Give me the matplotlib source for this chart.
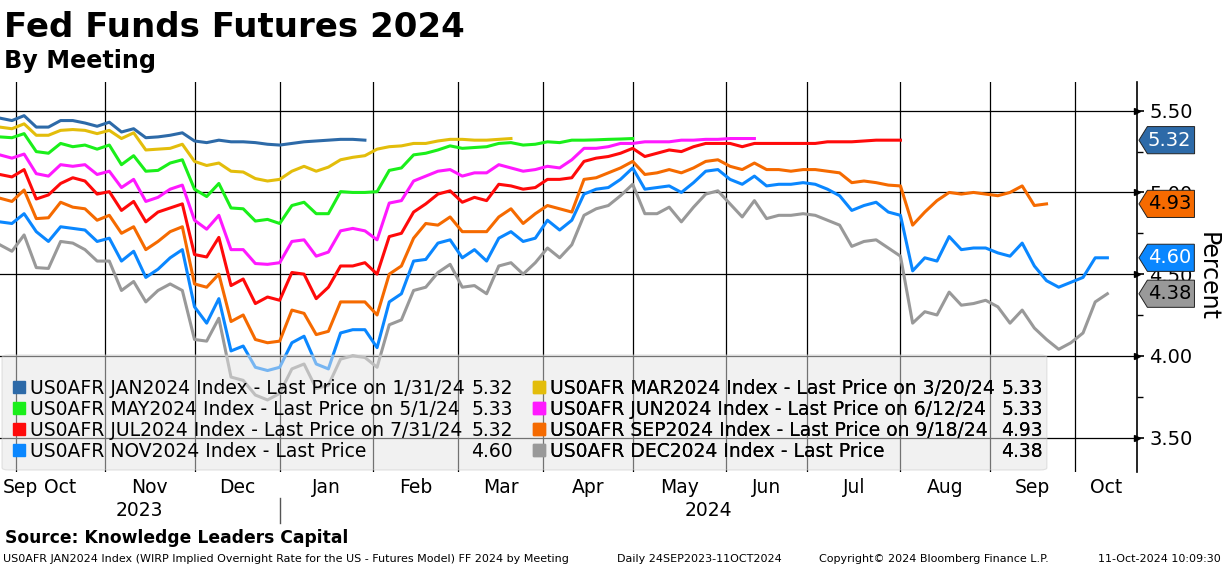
import numpy as np
import matplotlib
matplotlib.use('Agg')
import matplotlib.pyplot as plt
from matplotlib.lines import Line2D
from matplotlib.patches import FancyBboxPatch
from matplotlib.path import Path
from matplotlib.ticker import FormatStrFormatter

# implied overnight rate per FOMC meeting, every 3 business days
start = '2023-09-25'
step = 3

jan = [5.455, 5.44, 5.47, 5.40, 5.40, 5.44, 5.44, 5.425, 5.405, 5.43,
       5.37, 5.39, 5.335, 5.34, 5.35, 5.365, 5.315, 5.305, 5.32, 5.31,
       5.31, 5.305, 5.295, 5.29, 5.30, 5.31, 5.315, 5.32, 5.325, 5.325, 5.32]

mar = [5.40, 5.39, 5.42, 5.35, 5.35, 5.38, 5.385, 5.38, 5.36, 5.38,
       5.33, 5.365, 5.26, 5.265, 5.27, 5.295, 5.19, 5.165, 5.18, 5.13,
       5.125, 5.085, 5.07, 5.08, 5.13, 5.16, 5.13, 5.155, 5.20, 5.215,
       5.225, 5.265, 5.28, 5.285, 5.30, 5.30, 5.315, 5.325, 5.325, 5.32,
       5.32, 5.325, 5.33]

may = [5.34, 5.335, 5.36, 5.25, 5.24, 5.30, 5.28, 5.29, 5.265, 5.29,
       5.17, 5.225, 5.13, 5.135, 5.18, 5.20, 5.02, 4.975, 5.055, 4.905,
       4.90, 4.825, 4.835, 4.81, 4.92, 4.94, 4.87, 4.87, 5.005, 5.00,
       5.00, 5.005, 5.135, 5.15, 5.23, 5.24, 5.26, 5.285, 5.27, 5.275,
       5.28, 5.30, 5.305, 5.29, 5.295, 5.31, 5.305, 5.32, 5.32, 5.322,
       5.325, 5.327, 5.33]

jun = [5.23, 5.21, 5.235, 5.115, 5.10, 5.17, 5.16, 5.17, 5.11, 5.13,
       5.03, 5.08, 4.945, 4.97, 5.02, 5.045, 4.83, 4.775, 4.86, 4.65,
       4.65, 4.565, 4.56, 4.57, 4.70, 4.71, 4.61, 4.635, 4.765, 4.78,
       4.765, 4.71, 4.935, 4.95, 5.07, 5.10, 5.13, 5.14, 5.10, 5.12,
       5.12, 5.17, 5.15, 5.13, 5.14, 5.16, 5.15, 5.20, 5.27, 5.27,
       5.28, 5.30, 5.30, 5.31, 5.31, 5.31, 5.32, 5.32, 5.325, 5.325,
       5.33, 5.33, 5.33]

jul = [5.11, 5.095, 5.14, 4.96, 4.985, 5.055, 5.09, 5.07, 4.99, 5.005,
       4.89, 4.945, 4.82, 4.88, 4.905, 4.93, 4.62, 4.605, 4.725, 4.43,
       4.47, 4.32, 4.36, 4.34, 4.51, 4.50, 4.35, 4.42, 4.55, 4.55,
       4.57, 4.50, 4.73, 4.75, 4.88, 4.93, 4.99, 5.01, 4.94, 4.97,
       4.95, 5.05, 5.04, 5.02, 5.03, 5.08, 5.08, 5.09, 5.19, 5.21,
       5.22, 5.24, 5.27, 5.22, 5.24, 5.26, 5.25, 5.28, 5.30, 5.30,
       5.30, 5.28, 5.30, 5.30, 5.30, 5.30, 5.30, 5.30, 5.31, 5.31,
       5.31, 5.315, 5.32, 5.32, 5.32]

sep = [4.965, 4.945, 5.015, 4.84, 4.845, 4.94, 4.91, 4.90, 4.83, 4.86,
       4.75, 4.79, 4.65, 4.70, 4.76, 4.79, 4.44, 4.42, 4.50, 4.21,
       4.25, 4.10, 4.08, 4.09, 4.28, 4.26, 4.13, 4.15, 4.33, 4.33,
       4.33, 4.25, 4.50, 4.55, 4.72, 4.81, 4.80, 4.85, 4.76, 4.76,
       4.76, 4.85, 4.90, 4.81, 4.87, 4.92, 4.90, 4.88, 5.08, 5.09,
       5.12, 5.15, 5.19, 5.11, 5.12, 5.14, 5.12, 5.15, 5.19, 5.20,
       5.16, 5.14, 5.18, 5.14, 5.14, 5.13, 5.14, 5.14, 5.13, 5.12,
       5.06, 5.07, 5.06, 5.045, 5.04, 4.80, 4.88, 4.95, 5.00, 4.99,
       5.00, 4.99, 4.98, 5.00, 5.04, 4.92, 4.93]

nov = [4.82, 4.81, 4.87, 4.76, 4.70, 4.79, 4.78, 4.77, 4.70, 4.72,
       4.58, 4.64, 4.48, 4.53, 4.60, 4.65, 4.30, 4.20, 4.35, 4.03,
       4.06, 3.93, 3.91, 3.93, 4.08, 4.12, 3.95, 3.92, 4.14, 4.16,
       4.16, 4.05, 4.33, 4.38, 4.58, 4.59, 4.69, 4.71, 4.60, 4.65,
       4.58, 4.72, 4.76, 4.70, 4.72, 4.83, 4.77, 4.83, 4.99, 5.02,
       5.03, 5.08, 5.15, 5.02, 5.03, 5.04, 5.00, 5.06, 5.13, 5.14,
       5.08, 5.05, 5.10, 5.04, 5.05, 5.05, 5.06, 5.05, 5.02, 4.98,
       4.89, 4.92, 4.94, 4.88, 4.86, 4.52, 4.60, 4.58, 4.73, 4.65,
       4.66, 4.66, 4.63, 4.61, 4.69, 4.55, 4.46, 4.42, 4.45, 4.48,
       4.60, 4.60]

dec = [4.68, 4.64, 4.74, 4.54, 4.535, 4.70, 4.69, 4.65, 4.58, 4.58,
       4.40, 4.455, 4.33, 4.40, 4.44, 4.40, 4.10, 4.09, 4.23, 3.87,
       3.85, 3.76, 3.73, 3.77, 3.92, 3.95, 3.80, 3.82, 3.98, 4.00,
       3.99, 3.93, 4.19, 4.22, 4.40, 4.42, 4.51, 4.56, 4.42, 4.43,
       4.38, 4.55, 4.57, 4.50, 4.57, 4.66, 4.60, 4.68, 4.86, 4.90,
       4.92, 4.98, 5.05, 4.87, 4.87, 4.91, 4.82, 4.91, 4.99, 5.01,
       4.93, 4.85, 4.95, 4.84, 4.86, 4.86, 4.87, 4.86, 4.83, 4.80,
       4.67, 4.70, 4.71, 4.66, 4.61, 4.20, 4.27, 4.25, 4.39, 4.31,
       4.32, 4.34, 4.30, 4.20, 4.28, 4.17, 4.10, 4.04, 4.08, 4.14,
       4.33, 4.38]

names = ['JAN', 'MAR', 'MAY', 'JUN', 'JUL', 'SEP', 'NOV', 'DEC']
values = [jan, mar, may, jun, jul, sep, nov, dec]
colors = ['#2d6aa8', '#e3bd0b', '#1aef1a', '#ff19ff', '#ff0a0a', '#f56a00', '#0a87ff', '#999999']
last_dates = ['1/31/24', '3/20/24', '5/1/24', '6/12/24', '7/31/24', '9/18/24', None, None]
tagged = ['JAN', 'SEP', 'NOV', 'DEC']
tag_text = {'JAN': 'white', 'SEP': 'black', 'NOV': 'white', 'DEC': 'black'}

month_starts = np.array(['2023-10-01', '2023-11-01', '2023-12-01', '2024-01-01', '2024-02-01',
                         '2024-03-01', '2024-04-01', '2024-05-01', '2024-06-01', '2024-07-01',
                         '2024-08-01', '2024-09-01', '2024-10-01'], dtype='datetime64[D]')
month_names = ['Sep', 'Oct', 'Nov', 'Dec', 'Jan', 'Feb', 'Mar', 'Apr', 'May', 'Jun',
               'Jul', 'Aug', 'Sep', 'Oct']

x_left, x_right = 1.06, 281.3
bounds = np.busday_count(start, month_starts)
edges = np.r_[x_left, bounds, x_right]
mids = (edges[:-1] + edges[1:]) / 2
mids[0] = x_left + 0.75
jan1 = np.busday_count(start, np.datetime64('2024-01-01'))

fig = plt.figure(figsize=(12.24, 5.66), dpi=100)
ax = fig.add_axes([0, 94 / 566, 1137 / 1224, 390 / 566])

for name, vals, col in zip(names, values, colors):
    x = 1 + step * np.arange(len(vals))
    ax.plot(x, vals, color=col, lw=2.2, zorder=3)

ax.set_xlim(x_left, x_right)
ax.set_ylim(3.289, 5.676)

ax.set_xticks(bounds)
ax.set_xticks(mids, minor=True)
ax.set_xticklabels(month_names, minor=True)
ax.tick_params(axis='x', which='both', length=0, labelsize=13.5, pad=4)
ax.tick_params(axis='x', which='major', labelbottom=False)
ax.get_xticklabels(minor=True)[0].set_ha('left')
ax.grid(axis='x', which='major', color='black', lw=0.9)

ax.yaxis.tick_right()
ax.set_yticks([3.5, 4.0, 4.5, 5.0, 5.5])
ax.set_yticks([3.75, 4.25, 4.75, 5.25], minor=True)
ax.yaxis.set_major_formatter(FormatStrFormatter('%.2f'))
ax.tick_params(axis='y', which='major', direction='out', length=5, width=1.2,
               labelsize=14, pad=4, right=True, left=False)
ax.tick_params(axis='y', which='minor', direction='out', length=4, width=1,
               right=True, left=False)
ax.grid(axis='y', which='major', color='black', lw=0.9)
ax.set_axisbelow(True)
for s in ['left', 'top', 'bottom']:
    ax.spines[s].set_visible(False)
ax.spines['right'].set_linewidth(1.2)
ax.plot(np.ones(5), [3.5, 4.0, 4.5, 5.0, 5.5], ls='none', marker='>', ms=5, color='black',
        transform=ax.get_yaxis_transform(), clip_on=False, zorder=4)

ax.yaxis.set_label_position('right')
ax.set_ylabel('Percent', rotation=270, fontsize=17, va='center', ha='center')
ax.yaxis.set_label_coords(1.0625, 0.5)

# year labels under the month row
trans = ax.get_xaxis_transform()
ax.text((x_left + jan1) / 2, -0.1, '2023', transform=trans, ha='center', va='center', fontsize=13.5)
ax.text((jan1 + x_right) / 2, -0.1, '2024', transform=trans, ha='center', va='center', fontsize=13.5)
ax.axvline(jan1, ymin=-0.131, ymax=-0.067, color='#555555', lw=1, clip_on=False)


# last value tags on the right axis
def tag_shape(x0, y0, width, height, mutation_size):
    pady = 0.21 * mutation_size
    left = x0 - 0.6
    right = x0 + width + 0.16 * mutation_size
    bottom = y0 - pady
    top = y0 + height + pady
    tip = 0.31 * (top - bottom)
    verts = [(left, bottom), (right, bottom), (right, top), (left, top),
             (left - tip, (bottom + top) / 2), (left, bottom)]
    return Path(verts, closed=True)


for name, vals, col in zip(names, values, colors):
    if name not in tagged:
        continue
    ax.annotate(f'{vals[-1]:.2f}', xy=(1, vals[-1]), xycoords=('axes fraction', 'data'),
                xytext=(7.9, 0), textcoords='offset points', ha='left', va='center',
                fontsize=14, color=tag_text[name], annotation_clip=False, zorder=6,
                bbox=dict(boxstyle=tag_shape, fc=col, ec='#222222', lw=0.7))

# legend: two blocks of label + last value on one shaded panel
ax.add_patch(FancyBboxPatch((0.00176, 0.0051), 0.919, 0.295, transform=ax.transAxes,
                            boxstyle='round,pad=0,rounding_size=0.006', fc='#e4e4e4',
                            ec='#c8c8c8', lw=0.8, alpha=0.5, zorder=4))


def label_for(i):
    txt = f'US0AFR {names[i]}2024 Index - Last Price'
    if last_dates[i]:
        txt += f' on {last_dates[i]}'
    return txt


blank = Line2D([], [], ls='none')
leg_kw = dict(loc='lower left', borderaxespad=0, borderpad=0.5, handlelength=0.75,
              handletextpad=0.2, columnspacing=-0.6, labelspacing=0.1, fontsize=13.5,
              frameon=False, ncol=2)
for block, x_anchor in [([0, 2, 4, 6], 0.0023), ([1, 3, 5, 7], 0.4595)]:
    handles = [Line2D([], [], ls='none', marker='s', ms=8.5, color=colors[i]) for i in block]
    handles += [blank] * 4
    labels = [label_for(i) for i in block] + [f'{values[i][-1]:.2f}' for i in block]
    leg = ax.legend(handles, labels, bbox_to_anchor=(x_anchor, 0.005), **leg_kw)
    leg.set_zorder(5)
    ax.add_artist(leg)

fig.text(0.003, 1 - 36.7 / 566, 'Fed Funds Futures 2024', fontsize=24.5, weight='bold', va='baseline')
fig.text(0.003, 1 - 68.3 / 566, 'By Meeting', fontsize=17.2, weight='bold', va='baseline')
fig.text(0.004, 1 - 543 / 566, 'Source: Knowledge Leaders Capital', fontsize=12.3, weight='bold',
         va='baseline')
fig.text(0.0025, 1 - 561.5 / 566,
         'US0AFR JAN2024 Index (WIRP Implied Overnight Rate for the US - Futures Model) FF 2024 by Meeting',
         fontsize=8, va='baseline')
fig.text(617 / 1224, 1 - 561.5 / 566, 'Daily 24SEP2023-11OCT2024', fontsize=8, va='baseline')
fig.text(819 / 1224, 1 - 561.5 / 566, 'Copyright\u00a9 2024 Bloomberg Finance L.P.', fontsize=8,
         va='baseline')
fig.text(1221 / 1224, 1 - 561.5 / 566, '11-Oct-2024 10:09:30', fontsize=8, va='baseline', ha='right')

fig.savefig('out.png', dpi=100)
